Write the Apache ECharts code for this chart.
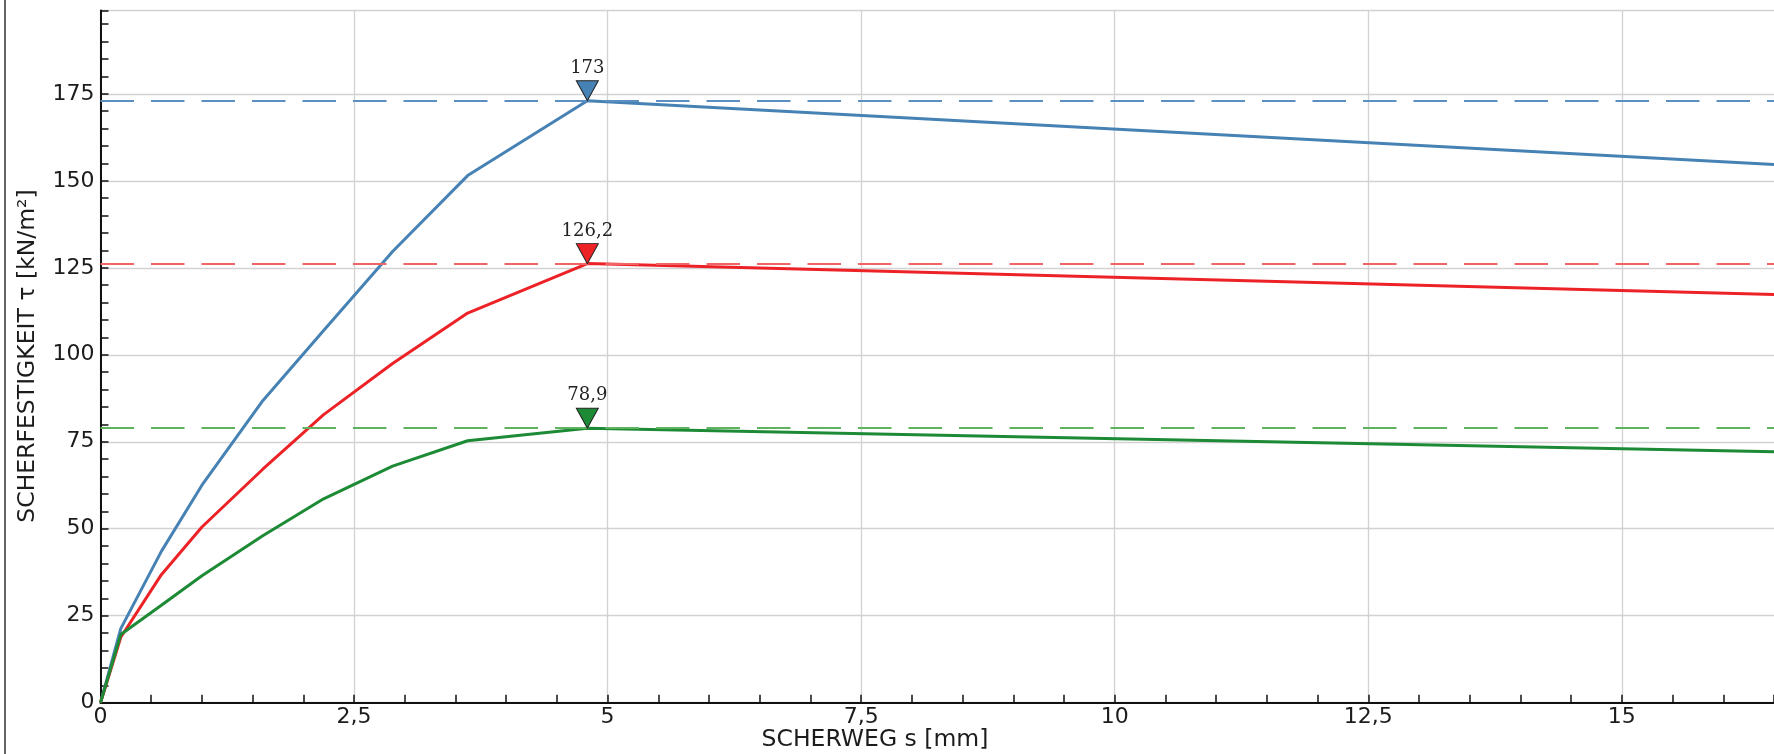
<!DOCTYPE html>
<html>
<head>
<meta charset="utf-8">
<script src="https://cdn.jsdelivr.net/npm/echarts@6/dist/echarts.min.js"></script>
<style>
  html, body { margin: 0; padding: 0; background: #fff; }
  #chart { width: 1774px; height: 754px; }
</style>
</head>
<body>
<div id="chart"></div>
<script>
// Scherweg s [mm] at which the curves were sampled
const SCHERWEG = [0, 0.2, 0.6, 1.0, 1.6, 2.2, 2.88, 3.62, 4.8, 16.5];
// Scherfestigkeit τ [kN/m²] for the three test series
const TAU_BLAU  = [0, 21.3, 43.5, 62.5, 86.8, 107.0, 129.7, 151.5, 173.0, 154.7];
const TAU_ROT   = [0, 18.8, 36.8, 50.5, 67.1, 82.8, 97.5, 112.0, 126.2, 117.3];
const TAU_GRUEN = [0, 19.6, 28.0, 36.5, 48.0, 58.6, 68.0, 75.3, 78.9, 72.1];
// Peak (maximum) shear strength of each series
const PEAK_S = 4.8;
const PEAKS = [173, 126.2, 78.9];
// Axis ranges and tick steps
const X_MAX = 16.5;
const Y_MAX = 198.95;
const X_MAJOR = 2.5, X_MINOR = 0.5;
const Y_MAJOR = 25, Y_MINOR = 5;

const LINE_COLORS = ['#4682b4', '#ec2227', '#1d8a36'];
const DASH_COLORS = ['#5b8fc2', '#f06466', '#5fb35f'];
const SERIES_DATA = [TAU_BLAU, TAU_ROT, TAU_GRUEN];
const SERIES_NAMES = ['Versuch 1', 'Versuch 2', 'Versuch 3'];

const decimalComma = v => String(v).replace('.', ',');
const isMultiple = (v, step) => Math.abs(v / step - Math.round(v / step)) < 1e-6;

const TEXT = '#1c1c1c';
const AXIS = '#111';
const GRID = '#d2d2d2';

const series = SERIES_DATA.map((vals, i) => ({
  name: SERIES_NAMES[i],
  type: 'line',
  xAxisIndex: 0,
  yAxisIndex: 0,
  data: SCHERWEG.map((s, k) => [s, vals[k]]),
  showSymbol: false,
  symbol: 'none',
  lineStyle: { color: LINE_COLORS[i], width: 3 },
  itemStyle: { color: LINE_COLORS[i] },
  z: 3,
  markLine: {
    silent: true,
    symbol: 'none',
    animation: false,
    label: { show: false },
    lineStyle: { color: DASH_COLORS[i], width: 1.9, type: [33.5, 17], opacity: 1 },
    emphasis: { disabled: true },
    data: [{ yAxis: PEAKS[i] }]
  },
  markPoint: {
    silent: true,
    animation: false,
    symbol: 'path://M0,0L22,0L11,20Z',
    symbolSize: [22, 20],
    symbolOffset: [0, '-50%'],
    itemStyle: { color: LINE_COLORS[i], borderColor: '#222', borderWidth: 1 },
    label: {
      show: true,
      position: 'top',
      distance: 3,
      color: '#222',
      fontFamily: 'DejaVu Serif',
      fontSize: 18,
      formatter: p => decimalComma(p.value)
    },
    data: [{ coord: [PEAK_S, PEAKS[i]], value: PEAKS[i] }]
  }
}));

const chart = echarts.init(document.getElementById('chart'), null, { renderer: 'canvas' });
chart.setOption({
  animation: false,
  backgroundColor: '#fff',
  grid: { left: 100.5, right: 0, top: 10.5, bottom: 51.3, containLabel: false, outerBoundsMode: 'none' },
  xAxis: [
    {
      type: 'value', position: 'bottom', min: 0, max: X_MAX, interval: X_MAJOR,
      axisLine: { show: true, onZero: false, lineStyle: { color: AXIS, width: 2 } },
      axisTick: { show: false },
      axisLabel: {
        show: true, margin: 4, color: TEXT, fontFamily: 'DejaVu Sans', fontSize: 22,
        showMaxLabel: false,
        formatter: v => isMultiple(v, X_MAJOR) ? decimalComma(v) : ''
      },
      splitLine: { show: true, showMaxLine: false, lineStyle: { color: GRID, width: 1.3 } }
    },
    {
      type: 'value', position: 'bottom', min: 0, max: X_MAX, interval: X_MINOR,
      axisLine: { show: false },
      axisTick: { show: true, inside: true, length: 8, lineStyle: { color: AXIS, width: 1.5 } },
      axisLabel: { show: false },
      splitLine: { show: false }
    }
  ],
  yAxis: [
    {
      type: 'value', position: 'left', min: 0, max: Y_MAX, interval: Y_MAJOR,
      axisLine: { show: true, onZero: false, lineStyle: { color: AXIS, width: 2 } },
      axisTick: { show: false },
      axisLabel: {
        show: true, margin: 6, color: TEXT, fontFamily: 'DejaVu Sans', fontSize: 22,
        formatter: v => isMultiple(v, Y_MAJOR) ? decimalComma(v) : ''
      },
      splitLine: { show: true, lineStyle: { color: GRID, width: 1.3 } }
    },
    {
      type: 'value', position: 'left', min: 0, max: Y_MAX, interval: Y_MINOR,
      axisLine: { show: false },
      axisTick: { show: true, inside: true, length: 8, lineStyle: { color: AXIS, width: 1.5 } },
      axisLabel: { show: false },
      splitLine: { show: false }
    }
  ],
  graphic: [
    {
      type: 'line', silent: true,
      shape: { x1: 5, y1: 0, x2: 5, y2: 754 },
      style: { stroke: '#333', lineWidth: 1.5 }
    },
    {
      type: 'text', silent: true, x: 875, y: 740,
      style: {
        text: 'SCHERWEG s [mm]', font: '23.5px "DejaVu Sans"', fill: TEXT,
        align: 'center', verticalAlign: 'middle', textAlign: 'center', textVerticalAlign: 'middle'
      }
    },
    {
      type: 'text', silent: true, x: 28, y: 356, rotation: Math.PI / 2,
      style: {
        text: 'SCHERFESTIGKEIT τ [kN/m²]', font: '23.5px "DejaVu Sans"', fill: TEXT,
        align: 'center', verticalAlign: 'middle', textAlign: 'center', textVerticalAlign: 'middle'
      }
    }
  ],
  series: series
});
</script>
</body>
</html>
